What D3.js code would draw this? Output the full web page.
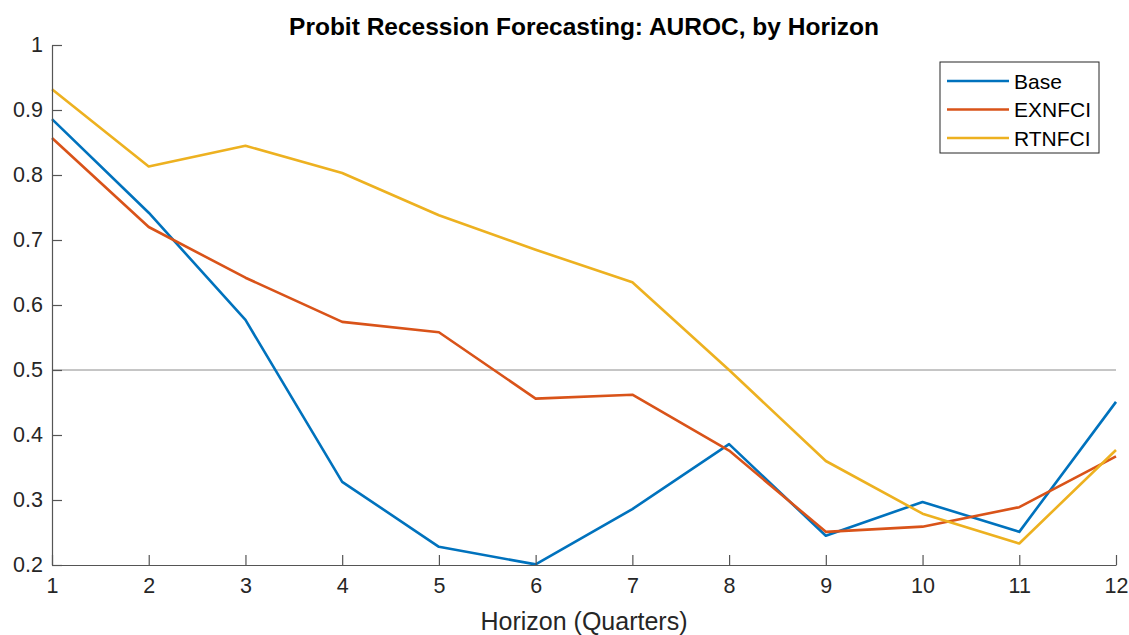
<!DOCTYPE html>
<html>
<head>
<meta charset="utf-8">
<script src="https://cdn.jsdelivr.net/npm/d3@7"></script>
<style>
  body { margin: 0; background: #fff; }
  text { font-family: "Liberation Sans", Arial, sans-serif; fill: #262626; }
</style>
</head>
<body>
<script>
var horizons = [1, 2, 3, 4, 5, 6, 7, 8, 9, 10, 11, 12];
var baseVals = [0.886, 0.742, 0.577, 0.328, 0.228, 0.201, 0.286, 0.386, 0.245, 0.297, 0.251, 0.451];
var exnfciVals = [0.857, 0.720, 0.642, 0.574, 0.558, 0.456, 0.462, 0.376, 0.251, 0.259, 0.289, 0.367];
var rtnfciVals = [0.932, 0.813, 0.845, 0.803, 0.738, 0.685, 0.635, 0.500, 0.360, 0.279, 0.233, 0.377];
var seriesNames = ["Base", "EXNFCI", "RTNFCI"];
var yTicks = [0.2, 0.3, 0.4, 0.5, 0.6, 0.7, 0.8, 0.9, 1];
var refLevel = 0.5;

var colors = ["#0072BD", "#D95319", "#EDB120"];
var allVals = [baseVals, exnfciVals, rtnfciVals];

var W = 1129, H = 635;
var margin = { left: 52, right: 13, top: 45, bottom: 70 };
var width = W - margin.left - margin.right;
var height = H - margin.top - margin.bottom;

var svg = d3.select("body").append("svg")
    .attr("width", W)
    .attr("height", H);

var g = svg.append("g")
    .attr("transform", "translate(" + margin.left + "," + margin.top + ")");

var x = d3.scaleLinear().domain([1, 12]).range([0, width]);
var y = d3.scaleLinear().domain([0.2, 1]).range([height, 0]);

// reference line at 0.5
g.append("line")
    .attr("x1", 0).attr("x2", width)
    .attr("y1", y(refLevel)).attr("y2", y(refLevel))
    .attr("stroke", "#8c8c8c").attr("stroke-width", 1);

var line = d3.line()
    .x(function(d, i) { return x(horizons[i]); })
    .y(function(d) { return y(d); });

allVals.forEach(function(vals, k) {
    g.append("path")
        .datum(vals)
        .attr("d", line)
        .attr("fill", "none")
        .attr("stroke", colors[k])
        .attr("stroke-width", 2.6)
        .attr("stroke-linejoin", "round");
});

// axes (ticks pointing inward, MATLAB style)
var xAxis = g.append("g")
    .attr("transform", "translate(0," + height + ")")
    .call(d3.axisBottom(x).tickValues(horizons).tickSize(-10).tickPadding(13).tickSizeOuter(0)
        .tickFormat(d3.format("d")));
var yAxis = g.append("g")
    .call(d3.axisLeft(y).tickValues(yTicks).tickSize(-10).tickPadding(9).tickSizeOuter(0)
        .tickFormat(function(d) { return d === 1 ? "1" : d3.format(".1f")(d); }));

[xAxis, yAxis].forEach(function(ax) {
    ax.select(".domain").attr("stroke", "#555").attr("stroke-width", 1.2);
    ax.selectAll(".tick line").attr("stroke", "#555").attr("stroke-width", 1.2);
    ax.selectAll(".tick text").style("font-size", "21.5px").style("fill", "#262626")
        .style("font-family", "'Liberation Sans', Arial, sans-serif");
});

// title
svg.append("text")
    .attr("x", margin.left + width / 2)
    .attr("y", 35)
    .attr("text-anchor", "middle")
    .style("font-size", "24.5px")
    .style("font-weight", "bold")
    .style("fill", "#000")
    .text("Probit Recession Forecasting: AUROC, by Horizon");

// x label
svg.append("text")
    .attr("x", margin.left + width / 2)
    .attr("y", 630)
    .attr("text-anchor", "middle")
    .style("font-size", "25px")
    .text("Horizon (Quarters)");

// legend
var legend = svg.append("g").attr("transform", "translate(940,62)");
legend.append("rect")
    .attr("width", 159).attr("height", 91)
    .attr("fill", "#fff").attr("stroke", "#262626").attr("stroke-width", 1);
seriesNames.forEach(function(name, k) {
    var yy = 19 + k * 28.5;
    legend.append("line")
        .attr("x1", 7).attr("x2", 69)
        .attr("y1", yy).attr("y2", yy)
        .attr("stroke", colors[k]).attr("stroke-width", 2.6);
    legend.append("text")
        .attr("x", 74).attr("y", yy + 7.5)
        .style("font-size", "21px")
        .style("fill", "#000")
        .text(name);
});
</script>
</body>
</html>
